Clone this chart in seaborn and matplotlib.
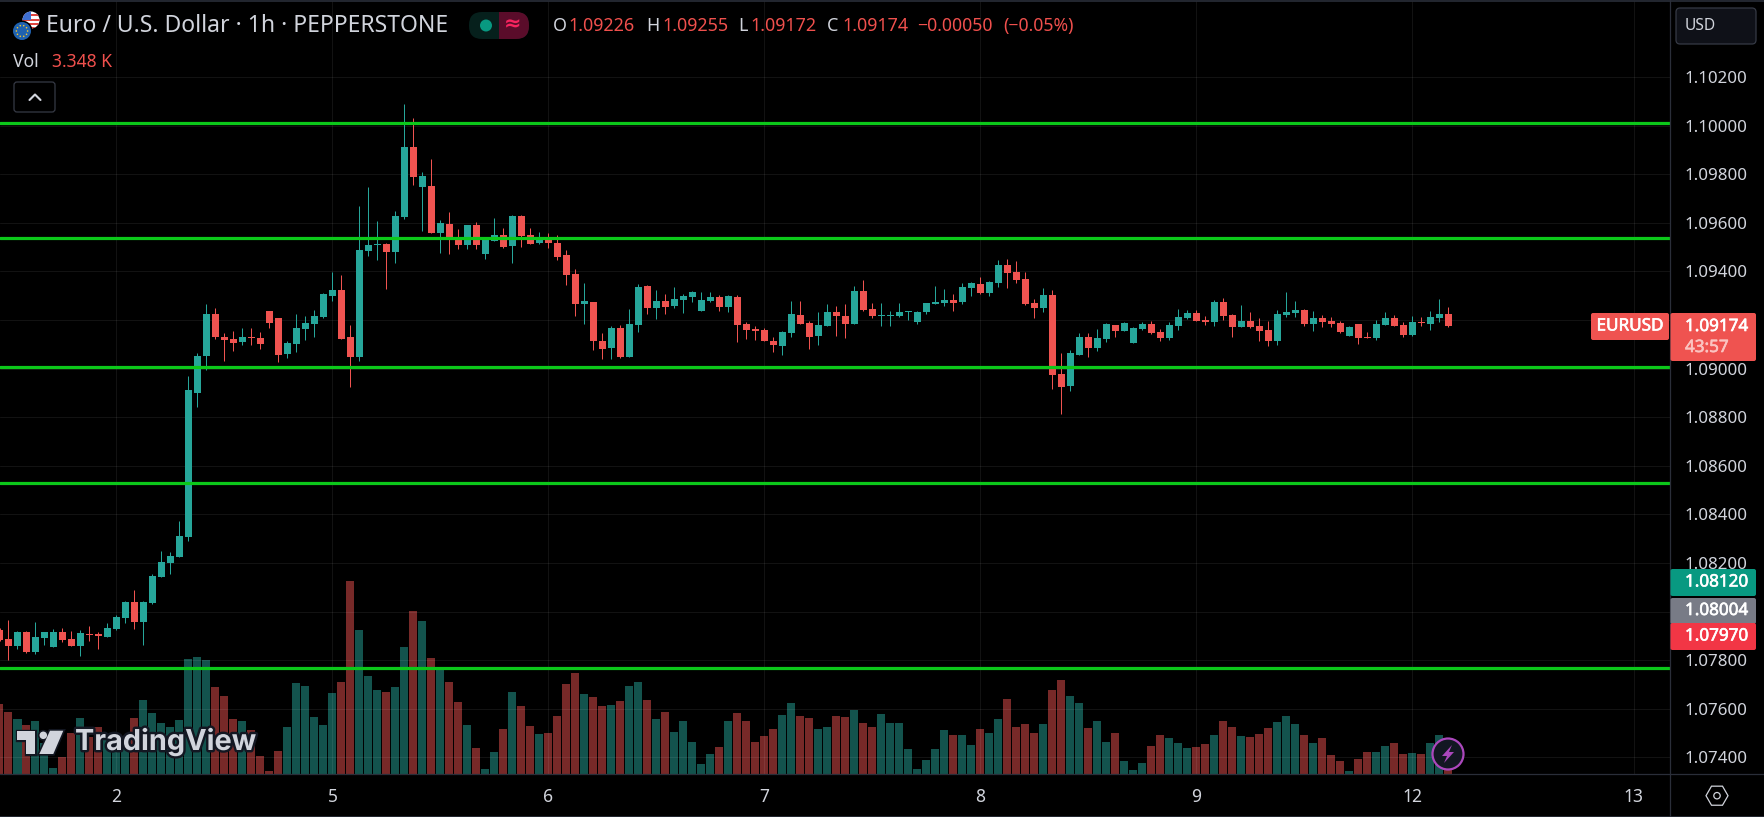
import numpy as np
import pandas as pd
import seaborn as sns
import matplotlib
matplotlib.use("Agg")
import matplotlib.pyplot as plt
from matplotlib.patches import FancyBboxPatch, Circle, Polygon, Rectangle
import matplotlib.patheffects as pe

opens = [1.07924,1.07887,1.07858,1.07916,1.07833,1.07891,1.07854,1.07916,1.07887,1.07858,1.07908,1.07908,1.07895,1.07928,1.07973,1.08039,1.07957,1.08035,1.08142,1.08200,1.08224,1.08307,1.08899,1.09052,1.09225,1.09130,1.09122,1.09110,1.09130,1.09126,1.09237,1.09209,1.09060,1.09102,1.09163,1.09184,1.09213,1.09299,1.09324,1.09130,1.09048,1.09484,1.09509,1.09513,1.09480,1.09624,1.09912,1.09749,1.09752,1.09558,1.09595,1.09542,1.09509,1.09591,1.09472,1.09525,1.09550,1.09505,1.09628,1.09550,1.09517,1.09533,1.09517,1.09468,1.09389,1.09266,1.09274,1.09114,1.09085,1.09167,1.09048,1.09180,1.09340,1.09249,1.09278,1.09258,1.09282,1.09295,1.09237,1.09278,1.09295,1.09254,1.09295,1.09184,1.09163,1.09159,1.09114,1.09093,1.09147,1.09221,1.09188,1.09134,1.09176,1.09234,1.09217,1.09184,1.09320,1.09246,1.09217,1.09217,1.09217,1.09234,1.09192,1.09234,1.09267,1.09271,1.09283,1.09275,1.09332,1.09349,1.09312,1.09353,1.09427,1.09398,1.09369,1.09271,1.09250,1.09304,1.08978,1.08929,1.09057,1.09131,1.09085,1.09123,1.09180,1.09155,1.09106,1.09164,1.09184,1.09151,1.09127,1.09176,1.09209,1.09230,1.09201,1.09192,1.09274,1.09221,1.09171,1.09196,1.09176,1.09159,1.09114,1.09221,1.09229,1.09241,1.09184,1.09208,1.09196,1.09188,1.09134,1.09184,1.09130,1.09126,1.09180,1.09208,1.09180,1.09138,1.09192,1.09184,1.09208,1.09226]
highs = [1.07931,1.07965,1.07920,1.07920,1.07957,1.07916,1.07928,1.07932,1.07920,1.07924,1.07940,1.07916,1.07953,1.07986,1.08043,1.08089,1.08043,1.08155,1.08249,1.08245,1.08373,1.08970,1.09064,1.09266,1.09250,1.09147,1.09155,1.09167,1.09167,1.09151,1.09237,1.09209,1.09114,1.09225,1.09217,1.09241,1.09311,1.09398,1.09386,1.09180,1.09670,1.09748,1.09608,1.09517,1.09649,1.10089,1.10032,1.09809,1.09863,1.09612,1.09645,1.09575,1.09591,1.09603,1.09533,1.09620,1.09579,1.09632,1.09632,1.09579,1.09562,1.09558,1.09550,1.09488,1.09410,1.09352,1.09274,1.09147,1.09175,1.09180,1.09245,1.09348,1.09344,1.09324,1.09307,1.09336,1.09307,1.09319,1.09315,1.09315,1.09303,1.09303,1.09303,1.09192,1.09175,1.09167,1.09130,1.09155,1.09278,1.09278,1.09196,1.09233,1.09267,1.09258,1.09267,1.09341,1.09365,1.09271,1.09271,1.09238,1.09271,1.09238,1.09238,1.09271,1.09341,1.09328,1.09308,1.09353,1.09357,1.09378,1.09361,1.09448,1.09452,1.09444,1.09398,1.09287,1.09332,1.09324,1.09065,1.09077,1.09147,1.09147,1.09164,1.09188,1.09180,1.09192,1.09172,1.09192,1.09197,1.09164,1.09192,1.09246,1.09242,1.09242,1.09217,1.09283,1.09291,1.09225,1.09262,1.09233,1.09208,1.09196,1.09241,1.09315,1.09278,1.09245,1.09237,1.09221,1.09213,1.09196,1.09176,1.09184,1.09151,1.09200,1.09233,1.09221,1.09192,1.09217,1.09213,1.09237,1.09287,1.09255]
lows = [1.07880,1.07801,1.07846,1.07829,1.07825,1.07862,1.07854,1.07875,1.07858,1.07817,1.07879,1.07846,1.07895,1.07924,1.07953,1.07928,1.07862,1.08031,1.08142,1.08155,1.08224,1.08290,1.08842,1.08995,1.09122,1.09032,1.09073,1.09097,1.09097,1.09081,1.09167,1.09027,1.09044,1.09069,1.09118,1.09130,1.09209,1.09279,1.09122,1.08925,1.09032,1.09464,1.09447,1.09328,1.09435,1.09616,1.09756,1.09567,1.09559,1.09476,1.09472,1.09492,1.09492,1.09492,1.09451,1.09525,1.09496,1.09435,1.09501,1.09513,1.09513,1.09496,1.09447,1.09344,1.09217,1.09184,1.09077,1.09040,1.09040,1.09044,1.09048,1.09151,1.09225,1.09204,1.09225,1.09249,1.09229,1.09274,1.09237,1.09274,1.09237,1.09233,1.09110,1.09122,1.09118,1.09114,1.09068,1.09056,1.09130,1.09184,1.09081,1.09097,1.09176,1.09135,1.09127,1.09184,1.09238,1.09209,1.09176,1.09176,1.09213,1.09201,1.09184,1.09225,1.09267,1.09258,1.09238,1.09267,1.09300,1.09308,1.09300,1.09337,1.09332,1.09353,1.09262,1.09209,1.09234,1.08917,1.08814,1.08908,1.09057,1.09048,1.09073,1.09110,1.09131,1.09155,1.09106,1.09160,1.09143,1.09114,1.09118,1.09160,1.09205,1.09197,1.09180,1.09176,1.09200,1.09130,1.09171,1.09167,1.09114,1.09093,1.09097,1.09213,1.09213,1.09176,1.09155,1.09171,1.09171,1.09147,1.09134,1.09101,1.09126,1.09118,1.09180,1.09176,1.09130,1.09134,1.09176,1.09159,1.09192,1.09172]
closes = [1.07883,1.07858,1.07916,1.07833,1.07895,1.07916,1.07916,1.07883,1.07858,1.07912,1.07903,1.07899,1.07932,1.07978,1.08039,1.07957,1.08039,1.08146,1.08204,1.08229,1.08311,1.08912,1.09052,1.09225,1.09130,1.09118,1.09106,1.09130,1.09126,1.09102,1.09188,1.09056,1.09106,1.09167,1.09188,1.09217,1.09307,1.09324,1.09122,1.09048,1.09488,1.09509,1.09513,1.09480,1.09628,1.09912,1.09789,1.09793,1.09559,1.09599,1.09529,1.09509,1.09591,1.09509,1.09529,1.09550,1.09501,1.09628,1.09546,1.09513,1.09533,1.09517,1.09459,1.09385,1.09266,1.09278,1.09114,1.09081,1.09167,1.09048,1.09184,1.09336,1.09249,1.09278,1.09254,1.09287,1.09299,1.09315,1.09282,1.09295,1.09254,1.09299,1.09180,1.09159,1.09155,1.09114,1.09097,1.09151,1.09225,1.09184,1.09130,1.09180,1.09234,1.09217,1.09184,1.09320,1.09242,1.09217,1.09221,1.09221,1.09234,1.09238,1.09234,1.09271,1.09275,1.09283,1.09271,1.09337,1.09353,1.09312,1.09357,1.09427,1.09394,1.09365,1.09267,1.09250,1.09304,1.08974,1.08925,1.09065,1.09131,1.09085,1.09127,1.09184,1.09155,1.09188,1.09168,1.09184,1.09147,1.09127,1.09180,1.09213,1.09230,1.09197,1.09192,1.09275,1.09217,1.09171,1.09196,1.09171,1.09155,1.09114,1.09225,1.09233,1.09241,1.09184,1.09208,1.09192,1.09184,1.09151,1.09171,1.09126,1.09126,1.09184,1.09208,1.09176,1.09138,1.09192,1.09188,1.09213,1.09225,1.09174]
volumes_k = [12.6,11.16,9.9,8.82,9.54,5.52,1.08,3.06,7.38,10.08,6.72,8.46,6.12,6.12,5.52,10.08,13.32,10.98,9.18,8.46,9.72,20.7,21.06,20.52,15.66,14.04,9.9,9.54,7.92,3.24,0.54,4.14,8.46,16.38,15.84,10.26,8.82,14.58,16.56,34.74,25.92,17.64,15.12,14.76,15.66,22.86,29.34,27.54,20.88,18.72,16.56,12.96,8.82,4.68,0.9,3.96,8.1,14.76,12.24,8.64,7.2,7.38,10.44,16.2,18.18,14.4,13.86,12.24,12.42,13.14,15.84,16.56,13.32,9.9,11.16,7.56,9.54,5.76,1.8,3.6,4.86,9.54,10.98,9.54,5.76,6.84,8.1,10.62,12.78,10.44,10.08,8.1,8.46,10.44,10.26,11.52,9.18,8.46,10.8,9.18,9.18,4.5,0.9,2.52,4.5,7.92,7.02,7.02,5.22,8.1,7.38,9.9,13.5,8.46,9.0,7.38,9.0,15.12,16.92,14.04,12.78,8.28,9.54,5.76,7.38,2.34,0.72,1.98,5.04,7.02,6.48,5.58,4.68,4.86,5.4,7.02,9.54,8.46,6.84,6.66,7.2,8.28,9.36,10.44,9.0,7.02,5.58,6.48,3.42,2.34,0.54,2.7,3.96,3.96,5.04,5.58,3.6,3.78,3.6,5.58,7.02,3.348]

levels = [1.1001, 1.09538, 1.09005, 1.08528, 1.07766]
price_ticks = [1.102,1.100,1.098,1.096,1.094,1.092,1.090,1.088,1.086,1.084,1.082,1.080,1.078,1.076,1.074]
covered_ticks = [1.092, 1.080]
day_bars = [13, 37, 61, 85, 109, 133, 157, 181.6]
day_labels = ["2", "5", "6", "7", "8", "9", "12", "13"]

UP, DOWN = "#26a69a", "#ef5350"
TXT = "#d1d4dc"
LINE = "#2a2e39"
GREEN_LINE = "#0cc81a"

sns.set_theme(style="dark", rc={"axes.facecolor": "black", "figure.facecolor": "black"})
FONT = ["Noto Sans", "DejaVu Sans"]
plt.rcParams["font.family"] = FONT

df = pd.DataFrame({"bar": np.arange(len(opens)), "open": opens, "high": highs,
                   "low": lows, "close": closes, "volume": volumes_k})
df["dir"] = np.where(df["close"] >= df["open"], "up", "down")
palette = {"up": UP, "down": DOWN}

W, H = 1765, 817
fig = plt.figure(figsize=(W / 100, H / 100), dpi=100, facecolor="black")
rect = [0, (H - 774) / H, 1670 / W, 773 / H]
xlim = (0.5 / 9, 1670.5 / 9)

# volume layer
axv = fig.add_axes(rect, facecolor="black", zorder=1)
sns.barplot(data=df, x="bar", y="volume", hue="dir", palette=palette, native_scale=True,
            dodge=False, width=8 / 9, saturation=1, alpha=0.5, legend=False, errorbar=None,
            linewidth=0, ax=axv)
axv.set_xlim(xlim)
axv.set_ylim(0, 139.14)
axv.set_axis_off()

# price layer
ax = fig.add_axes(rect, zorder=2)
ax.patch.set_alpha(0)
for d, g in df.groupby("dir"):
    ax.vlines(g["bar"], g["low"], g["high"], color=palette[d], lw=0.72, zorder=3)
    ax.bar(g["bar"], (g["close"] - g["open"]).abs(), bottom=g[["open", "close"]].min(axis=1),
           width=7 / 9, color=palette[d], linewidth=0, zorder=4)
for lv in levels:
    ax.axhline(lv, color=GREEN_LINE, lw=2.3, zorder=5)

ax.set_xlim(xlim)
ax.set_ylim(1.073313, 1.105134)
ax.set_yticks(price_ticks)
ax.set_yticklabels(["" if t in covered_ticks else f"{t:.5f}" for t in price_ticks])
ax.set_xticks(day_bars)
ax.set_xticklabels(day_labels)
ax.yaxis.tick_right()
ax.tick_params(axis="y", length=0, pad=10.6, labelsize=12.2, labelcolor=TXT)
ax.tick_params(axis="x", length=0, pad=10, labelsize=12.6, labelcolor=TXT)
ax.set_axisbelow(True)
ax.grid(True, color="white", alpha=0.075, lw=0.72)
ax.set_xlabel("")
ax.set_ylabel("")
for s in ax.spines.values():
    s.set_visible(False)

# overlay in pixel coordinates for the interface furniture
ov = fig.add_axes([0, 0, 1, 1], zorder=5)
ov.set_xlim(0, W)
ov.set_ylim(H, 0)
ov.set_axis_off()
ov.patch.set_alpha(0)


def box(x0, y0, x1, y1, fc, ec="none", r=2, lw=0, z=6):
    p = FancyBboxPatch((x0, y0), x1 - x0, y1 - y0, boxstyle=f"round,pad=0,rounding_size={r}",
                       fc=fc, ec=ec, lw=lw, zorder=z)
    ov.add_patch(p)
    return p


def txt(x, y, s, size, color=TXT, ha="left", weight="normal", z=8, **kw):
    return ov.text(x, y, s, fontsize=size, color=color, ha=ha, va="center", weight=weight,
                   zorder=z, family=FONT, **kw)


def semi(t, color="white", w=0.45):
    t.set_path_effects([pe.withStroke(linewidth=w, foreground=color)])
    return t


# frame separators
ov.plot([1670, 1670], [0, H], color=LINE, lw=0.9, zorder=5)
ov.plot([0, W], [774, 774], color=LINE, lw=0.9, zorder=5)
ov.plot([0, W], [0.5, 0.5], color=LINE, lw=1.2, zorder=5)
ov.plot([0, W], [816.5, 816.5], color=LINE, lw=1.2, zorder=5)

# flags
us = Circle((31, 20), 8.5, fc="white", ec="none", zorder=6)
ov.add_patch(us)
for yy in (14, 18.5, 23, 27):
    r_ = Rectangle((22, yy), 18, 2.2, fc="#e0453f", ec="none", zorder=6.1)
    ov.add_patch(r_)
    r_.set_clip_path(us)
can = Rectangle((22, 11), 9, 9, fc="#3f6fd1", ec="none", zorder=6.2)
ov.add_patch(can)
can.set_clip_path(us)
ov.add_patch(Circle((22, 31), 10.5, fc="black", ec="none", zorder=6.5))
ov.add_patch(Circle((22, 31), 9, fc="#1f62b0", ec="none", zorder=6.6))
for a in np.linspace(0, 2 * np.pi, 10, endpoint=False):
    ov.add_patch(Circle((22 + 5.6 * np.cos(a), 31 + 5.6 * np.sin(a)), 0.8, fc="#f3c52e", ec="none", zorder=6.7))

# header
txt(46, 26, "Euro / U.S. Dollar · 1h · PEPPERSTONE", 16.5)
ov.add_patch(FancyBboxPatch((469, 12), 60, 27, boxstyle="round,pad=0,rounding_size=13", fc="#06201c", ec="none", zorder=6))
right = FancyBboxPatch((469, 12), 60, 27, boxstyle="round,pad=0,rounding_size=13", fc="#5a0c2a", ec="none", zorder=6.1)
ov.add_patch(right)
clip = Rectangle((499, 12), 30, 27, transform=ov.transData)
right.set_clip_path(clip)
ov.add_patch(Circle((486, 25.5), 6, fc="#089981", ec="none", zorder=7))
txt(513, 25, "≈", 15, color="#f7245f", ha="center", weight="bold")

RED = "#f0504d"
for lab, lx, val, vx in [("O", 553, "1.09226", 568), ("H", 646, "1.09255", 662),
                         ("L", 738, "1.09172", 750), ("C", 827, "1.09174", 842)]:
    txt(lx, 26, lab, 12.9)
    txt(vx, 26, val, 12.9, color=RED)
txt(917, 26, "−0.00050", 12.7, color=RED)
txt(1003, 26, "(−0.05%)", 12.7, color=RED)
txt(13, 62, "Vol", 12.6)
txt(52, 62, "3.348 K", 12.6, color=RED)

box(14, 82, 55, 112, "black", ec="#363a45", r=3, lw=0.9)
ov.plot([29.5, 35, 40.5], [100, 94.5, 100], color=TXT, lw=1.5, zorder=8)

# right side
box(1676, 8, 1756, 44, "#0f1118", ec="#363a45", r=4, lw=0.9)
txt(1685, 26, "USD", 11.2)

box(1591, 313, 1669, 340, DOWN, r=2)
semi(txt(1630, 326.5, "EURUSD", 12.3, color="white", ha="center"))
box(1670.5, 313, 1756, 361, DOWN, r=2)
semi(txt(1685, 327, "1.09174", 12.3, color="white"))
semi(txt(1685, 348, "43:57", 12.3, color="#fbc4c1"), color="#fbc4c1")

box(1670.5, 569, 1756, 596, "#089981", r=2)
semi(txt(1685, 582.5, "1.08120", 12.3, color="white"))
box(1670.5, 598, 1756, 624, "#787b86", r=2)
semi(txt(1685, 611, "1.08004", 12.3, color="white"))
box(1670.5, 623, 1756, 650, "#f23645", r=2, z=6.2)
semi(txt(1685, 636.5, "1.07970", 12.3, color="white"))

# settings hexagon
ang = np.deg2rad(np.arange(0, 360, 60))
ov.add_patch(Polygon(np.c_[1717 + 11 * np.cos(ang), 795.7 + 11 * np.sin(ang)], closed=True,
                     fc="none", ec=TXT, lw=0.9, zorder=7))
ov.add_patch(Circle((1717, 795.7), 3.2, fc="none", ec=TXT, lw=0.9, zorder=7))

# lightning badge
ov.add_patch(Circle((1448, 754), 15.5, fc="#131722", ec="#ab47bc", lw=1.6, zorder=7))
ov.add_patch(Polygon([(1452, 745), (1442, 756), (1447, 756), (1444, 763), (1454, 752), (1449, 752)],
                     closed=True, fc="#ab47bc", ec="none", zorder=8))

# TradingView watermark
DK = "#131722"
LOGO = "#d1d4dc"
for pts in ([(17.3, 730.7), (35, 730.7), (35, 754), (26, 754), (26, 740), (17.3, 740)],
            [(50, 730.7), (63.3, 730.7), (53.3, 754), (39.3, 754)]):
    ov.add_patch(Polygon(pts, closed=True, fc=LOGO, ec=DK, lw=2.4, zorder=6.6))
    ov.add_patch(Polygon(pts, closed=True, fc=LOGO, ec="none", zorder=6.8))
ov.add_patch(Circle((43.3, 735.3), 4.6, fc=LOGO, ec=DK, lw=1.2, zorder=6.7))
t = ov.text(75, 742, "TradingView", fontsize=20.8, color=LOGO, ha="left", va="center",
            weight="bold", zorder=7, family=["Inter", "DejaVu Sans"])
t.set_path_effects([pe.withStroke(linewidth=3.5, foreground=DK)])

fig.savefig("out.png", dpi=100, facecolor="black")
